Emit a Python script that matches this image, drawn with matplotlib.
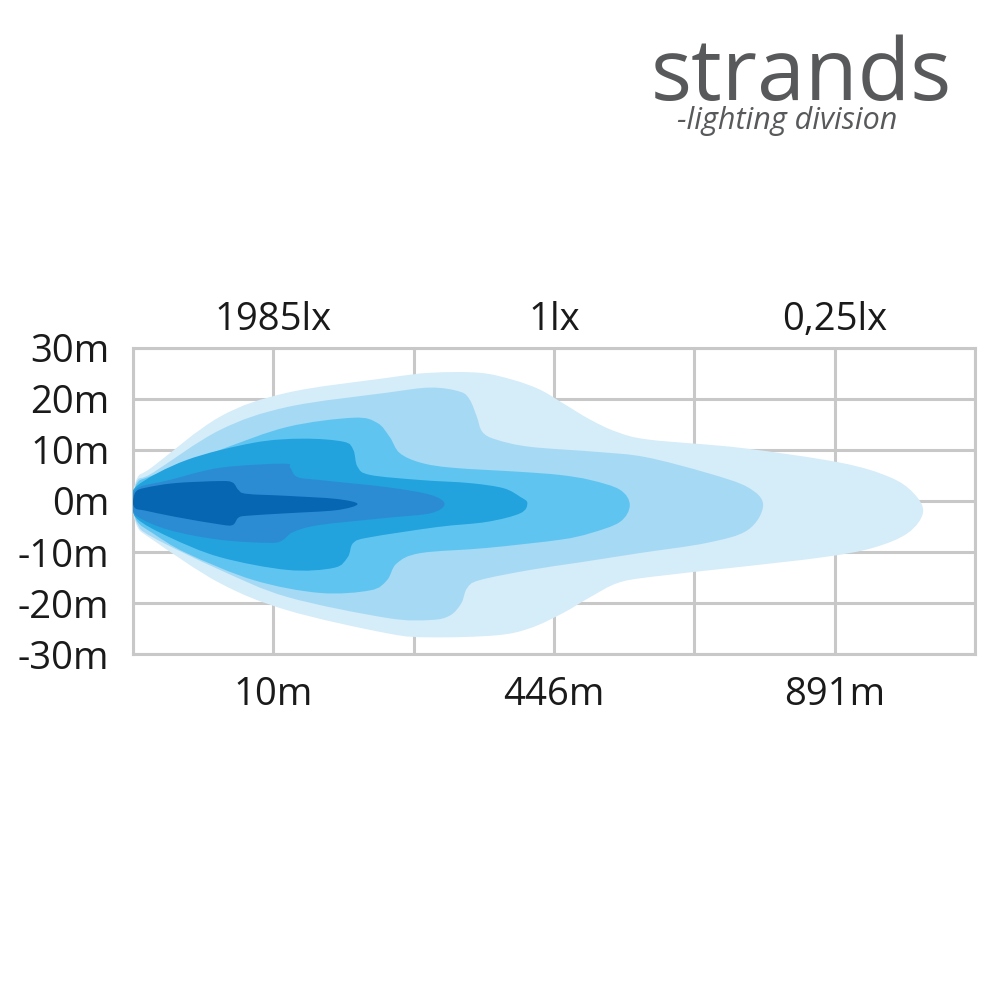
import matplotlib.pyplot as plt
import numpy as np
from matplotlib.path import Path
from matplotlib.patches import PathPatch

# isolux outlines, x in grid columns (0..6), y in metres; lightest -> darkest
layer1_x = [0.0, 0.03, 0.14, 0.62, 1.10, 1.81, 2.12, 2.47, 2.71, 2.90, 3.06, 3.26, 3.45, 3.68, 4.33, 5.04, 5.39,
            5.56, 5.63, 5.52, 5.27, 4.92, 4.33, 3.68, 3.45, 3.26, 3.06, 2.83, 2.59, 2.12, 1.81, 1.10, 0.62, 0.14, 0.03]
layer1_y = [-0.5, 4.5, 6.7, 16.5, 21.2, 24.1, 25.1, 25.1, 23.7, 21.8, 19.2, 15.9, 13.5, 12.0, 10.4, 7.5, 4.7,
            1.6, -2.2, -6.3, -9.2, -11.0, -12.9, -14.9, -16.1, -18.8, -22.0, -24.9, -26.3, -26.7, -25.9, -21.4, -16.1, -7.6, -5.0]

layer2_x = [0.0, 0.03, 0.14, 0.62, 1.10, 1.81, 2.12, 2.33, 2.40, 2.45, 2.49, 2.59, 2.83, 3.31, 3.65, 4.09, 4.38, 4.49,
            4.38, 4.09, 3.61, 3.19, 2.83, 2.47, 2.38, 2.34, 2.26, 2.12, 1.81, 1.10, 0.62, 0.14, 0.03]
layer2_y = [-0.5, 4.0, 5.5, 13.9, 18.4, 21.2, 22.2, 21.4, 19.8, 16.5, 13.5, 12.0, 10.6, 9.6, 8.6, 5.5, 2.7, -0.8,
            -5.7, -8.2, -10.2, -12.0, -13.5, -15.5, -17.1, -20.0, -22.4, -23.3, -22.9, -18.8, -13.5, -7.1, -4.5]

layer3_x = [0.0, 0.03, 0.14, 0.62, 1.10, 1.57, 1.74, 1.83, 1.90, 2.05, 2.28, 2.76, 3.04, 3.26, 3.47, 3.54,
            3.47, 3.26, 3.04, 2.52, 2.05, 1.88, 1.81, 1.69, 1.33, 0.86, 0.38, 0.14, 0.03]
layer3_y = [-0.5, 3.5, 5.0, 10.0, 14.5, 16.3, 15.3, 12.5, 9.4, 7.5, 6.5, 5.7, 5.1, 4.1, 2.2, -0.8,
            -4.1, -6.3, -7.6, -9.2, -10.2, -12.2, -15.5, -17.5, -18.0, -15.5, -10.2, -6.3, -4.0]

layer4_x = [0.0, 0.03, 0.38, 0.86, 1.21, 1.50, 1.57, 1.60, 1.69, 2.05, 2.40, 2.64, 2.76, 2.81,
            2.76, 2.52, 2.17, 1.69, 1.57, 1.53, 1.43, 1.10, 0.62, 0.26, 0.03]
layer4_y = [-0.5, 3.0, 8.0, 11.4, 12.2, 11.6, 10.0, 6.7, 5.1, 4.1, 3.5, 2.5, 0.8, -0.4,
            -2.4, -4.1, -5.1, -7.1, -8.2, -11.0, -13.1, -13.5, -11.0, -7.1, -3.5]

layer5_x = [0.0, 0.03, 0.26, 0.62, 1.07, 1.12, 1.17, 1.33, 1.81, 2.12, 2.22,
            2.12, 1.81, 1.33, 1.14, 1.07, 0.98, 0.62, 0.26, 0.03]
layer5_y = [-0.5, 2.5, 4.1, 6.5, 7.3, 6.5, 4.7, 4.1, 2.7, 1.2, -0.6,
            -2.4, -3.3, -4.7, -6.1, -7.6, -8.2, -7.6, -5.7, -3.0]

layer6_x = [0.0, 0.02, 0.09, 0.30, 0.62, 0.71, 0.75, 0.81, 1.10, 1.45, 1.60,
            1.45, 1.10, 0.81, 0.75, 0.71, 0.62, 0.30, 0.09, 0.02]
layer6_y = [-0.3, 1.8, 2.6, 3.5, 3.9, 3.6, 2.2, 1.4, 1.0, 0.4, -0.6,
            -1.8, -2.4, -2.9, -3.3, -4.7, -4.6, -3.1, -1.9, -1.5]

layer_colors = ["#d5ecf9", "#a6d9f4", "#5fc5f0", "#22a3de", "#2b8cd4", "#0766b1"]

y_ticks = [30, 20, 10, 0, -10, -20, -30]
y_labels = ["30m", "20m", "10m", "0m", "-10m", "-20m", "-30m"]
dist_ticks = [1, 3, 5]
dist_labels = ["10m", "446m", "891m"]
lux_labels = ["1985lx", "1lx", "0,25lx"]


def smooth_path(xs, ys):
    # closed Catmull-Rom outline drawn as cubic Bezier segments
    pts = np.column_stack([xs, ys])
    n = len(pts)
    verts = [pts[0]]
    codes = [Path.MOVETO]
    for i in range(n):
        p0, p1, p2, p3 = pts[i - 1], pts[i], pts[(i + 1) % n], pts[(i + 2) % n]
        verts += [p1 + (p2 - p0) / 6, p2 - (p3 - p1) / 6, p2]
        codes += [Path.CURVE4] * 3
    return Path(verts, codes)


plt.rcParams['font.family'] = ['Open Sans', 'DejaVu Sans']
fig = plt.figure(figsize=(10, 10.08), dpi=100)
ax = fig.add_axes([0.133, 0.351, 0.842, 0.304])

layers = [(layer1_x, layer1_y), (layer2_x, layer2_y), (layer3_x, layer3_y),
          (layer4_x, layer4_y), (layer5_x, layer5_y), (layer6_x, layer6_y)]
for (lx, ly), c in zip(layers, layer_colors):
    ax.add_patch(PathPatch(smooth_path(lx, ly), facecolor=c, edgecolor='none', zorder=2))

ax.set_xlim(0, 6)
ax.set_ylim(-30, 30)
ax.set_xticks(range(7))
ax.set_xticklabels(["", dist_labels[0], "", dist_labels[1], "", dist_labels[2], ""])
ax.set_yticks(y_ticks)
ax.set_yticklabels(y_labels)
ax.set_axisbelow(True)
ax.grid(True, color="#c8c8c8", linewidth=2.2)
for s in ax.spines.values():
    s.set_color("#c8c8c8")
    s.set_linewidth(2.2)
    s.set_zorder(1)
ax.tick_params(axis='both', length=0, labelsize=27.5, colors='#1a1a1a')
ax.tick_params(axis='x', pad=16)
ax.tick_params(axis='y', pad=17)

top = ax.secondary_xaxis('top')
top.set_xticks(dist_ticks)
top.set_xticklabels(lux_labels)
top.tick_params(length=0, labelsize=27.5, colors='#1a1a1a', pad=6)
for s in top.spines.values():
    s.set_visible(False)

fig.text(0.801, 0.901, "strands", fontsize=62, color="#58595b", ha='center', va='baseline')
fig.text(0.787, 0.872, "-lighting division", fontsize=22, color="#58595b", ha='center',
         va='baseline', style='italic')

fig.savefig("out.png", dpi=100)
